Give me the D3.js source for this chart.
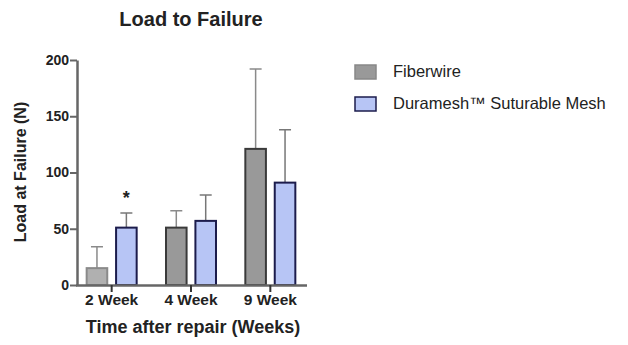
<!DOCTYPE html>
<html><head><meta charset="utf-8">
<script src="https://cdn.jsdelivr.net/npm/d3@7"></script>
<style>body{margin:0;background:#fff}svg{display:block}text{font-family:"Liberation Sans",Arial,sans-serif;font-weight:bold}text.leg{font-weight:normal}</style>
</head><body><svg id="c" width="628" height="345"></svg>
<script>
const categories = ["2 Week", "4 Week", "9 Week"];
const seriesNames = ["Fiberwire", "Duramesh\u2122 Suturable Mesh"];
const fiberwireMeans = [15, 51, 121];
const fiberwireErr = [19, 15, 71];
const curamMeans = [51, 57, 91];
const curamErr = [13, 23, 47];
const yTicks = [0, 50, 100, 150, 200];
const sigMarks = [{cat: "2 Week", series: 1, y: 80, label: "*"}];

const svg = d3.select("#c");
const x0 = d3.scaleBand().domain(categories).range([72, 310]).paddingInner(0).paddingOuter(0);
const x1 = d3.scaleBand().domain([0, 1]).range([-25, 25]).paddingInner(0.3).paddingOuter(0);
const y = d3.scaleLinear().domain([0, 200]).range([285, 60]);

const fills = ["#999999", "#b7c5f5"];
const strokes = ["#3a3a3a", "#1c1c4c"];
const errCols = ["#8a8a8a", "#777777"];

const series = [
  {means: fiberwireMeans, err: fiberwireErr},
  {means: curamMeans, err: curamErr}
];

series.forEach((s, si) => {
  const g = svg.append("g");
  categories.forEach((c, ci) => {
    const cx = x0(c) + x0.bandwidth() / 2;
    const bx = cx + x1(si);
    const bw = x1.bandwidth();
    g.append("line").attr("x1", bx + bw / 2).attr("x2", bx + bw / 2)
      .attr("y1", y(s.means[ci])).attr("y2", y(s.means[ci] + s.err[ci]))
      .attr("stroke", errCols[si]).attr("stroke-width", 1.5);
    g.append("line").attr("x1", bx + bw / 2 - 6).attr("x2", bx + bw / 2 + 6)
      .attr("y1", y(s.means[ci] + s.err[ci])).attr("y2", y(s.means[ci] + s.err[ci]))
      .attr("stroke", errCols[si]).attr("stroke-width", 1.5);
    const light = (si === 0 && ci === 0);
    g.append("rect").attr("x", bx).attr("width", bw)
      .attr("y", y(s.means[ci])).attr("height", y(0) - y(s.means[ci]))
      .attr("fill", light ? "#b0b0b0" : fills[si])
      .attr("stroke", light ? "#8a8a8a" : strokes[si]).attr("stroke-width", 2);
  });
});

sigMarks.forEach(m => {
  const cx = x0(m.cat) + x0.bandwidth() / 2 + x1(m.series) + x1.bandwidth() / 2;
  svg.append("text").attr("x", cx).attr("y", y(m.y) + 9).attr("text-anchor", "middle")
    .attr("font-size", 18).attr("fill", "#222").text(m.label);
});

const axisCol = "#666";
const yAxis = svg.append("g").attr("transform", "translate(77,0)")
  .call(d3.axisLeft(y).tickValues(yTicks).tickSize(7).tickSizeOuter(0));
yAxis.select(".domain").attr("stroke", axisCol).attr("stroke-width", 2.5);
yAxis.selectAll(".tick line").attr("stroke", axisCol).attr("stroke-width", 2);
yAxis.selectAll("text").attr("font-size", 14).attr("fill", "#222").attr("x", -8);

const xAxis = svg.append("g").attr("transform", "translate(0,285)")
  .call(d3.axisBottom(x0).tickSize(7).tickSizeOuter(0));
xAxis.select(".domain").attr("stroke", axisCol).attr("stroke-width", 2.5).attr("d", "M76,0.5H307");
xAxis.selectAll(".tick line").attr("stroke", "#333").attr("stroke-width", 2);
xAxis.selectAll("text").attr("font-size", 15.5).attr("fill", "#222").attr("y", 9);

svg.append("text").attr("x", 191).attr("y", 26).attr("text-anchor", "middle")
  .attr("font-size", 20).attr("fill", "#222").text("Load to Failure");
svg.append("text").attr("transform", "translate(26,172) rotate(-90)").attr("text-anchor", "middle")
  .attr("font-size", 16).attr("fill", "#222").text("Load at Failure (N)");
svg.append("text").attr("x", 193).attr("y", 333).attr("text-anchor", "middle")
  .attr("font-size", 18).attr("fill", "#222").text("Time after repair (Weeks)");

const leg = svg.append("g");
seriesNames.forEach((n, i) => {
  const ly = 72 + i * 32;
  leg.append("rect").attr("x", 355).attr("y", ly - 7).attr("width", 21).attr("height", 14)
    .attr("fill", fills[i]).attr("stroke", i === 0 ? "#888" : strokes[i]).attr("stroke-width", 1.5);
  leg.append("text").attr("class", "leg").attr("x", 393).attr("y", ly + 5).attr("font-size", 16.5)
    .attr("fill", "#222").text(n);
});
</script></body></html>
